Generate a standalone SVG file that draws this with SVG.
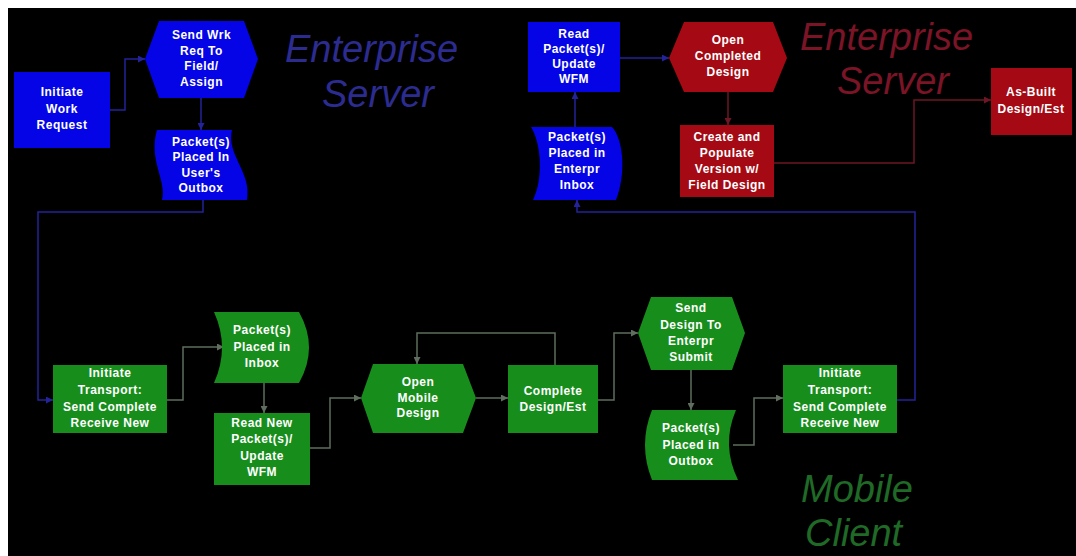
<svg xmlns="http://www.w3.org/2000/svg" width="1076" height="556" viewBox="0 0 1076 556">
  <style>
    .blue { fill: #0404e6; }
    .red { fill: #a50a14; }
    .green { fill: #178e1c; }
    .lbl { font-family: "Liberation Sans", Arial, sans-serif; font-weight: bold; font-size: 12px; fill: #ffffff; text-anchor: middle; letter-spacing: 0.5px; }
    .title { font-family: "Liberation Sans", Arial, sans-serif; font-style: italic; font-size: 38px; }
    .cb { fill: none; stroke: #23239a; stroke-width: 1.5; marker-end: url(#ab); }
    .cr { fill: none; stroke: #6e1624; stroke-width: 1.5; marker-end: url(#ar); }
    .cg { fill: none; stroke: #5f6e5f; stroke-width: 1.5; marker-end: url(#ag); }
  </style>
  <defs>
    <marker id="ab" viewBox="0 0 10 10" refX="10" refY="5" markerWidth="7" markerHeight="7" markerUnits="userSpaceOnUse" orient="auto">
      <path d="M0,0 L10,5 L0,10 Z" fill="#23239a"/>
    </marker>
    <marker id="ar" viewBox="0 0 10 10" refX="10" refY="5" markerWidth="7" markerHeight="7" markerUnits="userSpaceOnUse" orient="auto">
      <path d="M0,0 L10,5 L0,10 Z" fill="#6e1624"/>
    </marker>
    <marker id="ag" viewBox="0 0 10 10" refX="10" refY="5" markerWidth="7" markerHeight="7" markerUnits="userSpaceOnUse" orient="auto">
      <path d="M0,0 L10,5 L0,10 Z" fill="#5f6e5f"/>
    </marker>
  </defs>

  <!-- page and dark canvas -->
  <rect x="0" y="0" width="1076" height="556" fill="#ffffff"/>
  <rect x="8" y="8" width="1068" height="548" fill="#000000"/>

  <!-- swimlane titles -->
  <g id="titles">
    <text class="title" fill="#2c2c90"><tspan x="285" y="62">Enterprise</tspan><tspan x="322" y="107">Server</tspan></text>
    <text class="title" fill="#7a1426"><tspan x="800" y="50">Enterprise</tspan><tspan x="837" y="94">Server</tspan></text>
    <text class="title" fill="#1f6a26"><tspan x="801" y="502">Mobile</tspan><tspan x="805" y="546">Client</tspan></text>
  </g>

  <!-- connectors -->
  <g id="connectors">
    <polyline class="cb" points="110,110 125,110 125,59 145,59"/>
    <polyline class="cb" points="201,98 201,130"/>
    <polyline class="cb" points="203,200 203,212 38,212 38,400 53,400"/>
    <polyline class="cb" points="897,400 915,400 915,212 577,212 577,200"/>
    <polyline class="cb" points="575,127 575,92"/>
    <polyline class="cb" points="620,58 669,58"/>
    <polyline class="cr" points="728,92 728,125"/>
    <polyline class="cr" points="774,163 914,163 914,100 991,100"/>
    <polyline class="cg" points="167,400 183,400 183,347 224,347"/>
    <polyline class="cg" points="264,383 264,413"/>
    <polyline class="cg" points="310,448 330,448 330,398 361,398"/>
    <polyline class="cg" points="476,398 508,398"/>
    <polyline class="cg" points="555,365 555,333 417,333 417,364"/>
    <polyline class="cg" points="598,400 614,400 614,333 638,333"/>
    <polyline class="cg" points="691,370 691,410"/>
    <polyline class="cg" points="733,445 754,445 754,398 783,398"/>
  </g>

  <!-- enterprise server (dispatch side) -->
  <g id="initiate-work-request">
    <rect class="blue" x="14" y="72" width="96" height="76"/>
    <text class="lbl"><tspan x="62" y="96">Initiate</tspan><tspan x="62" y="112.5">Work</tspan><tspan x="62" y="129">Request</tspan></text>
  </g>
  <g id="send-work-request">
    <polygon class="blue" points="145,59 159,21 244,21 258,59 244,98 159,98"/>
    <text class="lbl"><tspan x="201.5" y="39">Send Wrk</tspan><tspan x="201.5" y="55">Req To</tspan><tspan x="201.5" y="70">Field/</tspan><tspan x="201.5" y="86">Assign</tspan></text>
  </g>
  <g id="packets-user-outbox">
    <path class="blue" d="M157,130 H232 C226,155 252,172 247,200 H162 C167,180 148,160 157,130 Z"/>
    <text class="lbl"><tspan x="201" y="146">Packet(s)</tspan><tspan x="201" y="161">Placed In</tspan><tspan x="201" y="176.5">User's</tspan><tspan x="201" y="192">Outbox</tspan></text>
  </g>

  <!-- enterprise server (return side) -->
  <g id="read-packets-update-wfm">
    <rect class="blue" x="528" y="22" width="92" height="70"/>
    <text class="lbl"><tspan x="574" y="38">Read</tspan><tspan x="574" y="53">Packet(s)/</tspan><tspan x="574" y="68">Update</tspan><tspan x="574" y="83">WFM</tspan></text>
  </g>
  <g id="packets-enterprise-inbox">
    <path class="blue" d="M531,127 H612 C624,140 626,175 616,200 H533 C543,180 542,145 531,127 Z"/>
    <text class="lbl"><tspan x="577" y="141">Packet(s)</tspan><tspan x="577" y="157">Placed in</tspan><tspan x="577" y="173">Enterpr</tspan><tspan x="577" y="189">Inbox</tspan></text>
  </g>
  <g id="open-completed-design">
    <polygon class="red" points="669,58 684,22 773,22 787,58 773,92 684,92"/>
    <text class="lbl"><tspan x="728" y="44">Open</tspan><tspan x="728" y="60">Completed</tspan><tspan x="728" y="76">Design</tspan></text>
  </g>
  <g id="create-populate-version">
    <rect class="red" x="680" y="125" width="94" height="72"/>
    <text class="lbl"><tspan x="727" y="141">Create and</tspan><tspan x="727" y="157">Populate</tspan><tspan x="727" y="173">Version  w/</tspan><tspan x="727" y="189">Field Design</tspan></text>
  </g>
  <g id="as-built-design">
    <rect class="red" x="991" y="68" width="81" height="67"/>
    <text class="lbl"><tspan x="1031" y="96">As-Built</tspan><tspan x="1031" y="113">Design/Est</tspan></text>
  </g>

  <!-- mobile client -->
  <g id="initiate-transport-in">
    <rect class="green" x="53" y="365" width="114" height="68"/>
    <text class="lbl"><tspan x="110" y="377">Initiate</tspan><tspan x="110" y="394">Transport:</tspan><tspan x="110" y="411">Send Complete</tspan><tspan x="110" y="427">Receive New</tspan></text>
  </g>
  <g id="packets-inbox">
    <path class="green" d="M214,312 H299 Q319,347.5 299,383 H214 Q230,347.5 214,312 Z"/>
    <text class="lbl"><tspan x="262" y="334">Packet(s)</tspan><tspan x="262" y="351">Placed in</tspan><tspan x="262" y="367">Inbox</tspan></text>
  </g>
  <g id="read-new-packets">
    <rect class="green" x="214" y="413" width="96" height="72"/>
    <text class="lbl"><tspan x="262" y="427">Read New</tspan><tspan x="262" y="443">Packet(s)/</tspan><tspan x="262" y="460">Update</tspan><tspan x="262" y="476">WFM</tspan></text>
  </g>
  <g id="open-mobile-design">
    <polygon class="green" points="361,398 373,364 463,364 476,398 463,433 373,433"/>
    <text class="lbl"><tspan x="418" y="386">Open</tspan><tspan x="418" y="401.5">Mobile</tspan><tspan x="418" y="417">Design</tspan></text>
  </g>
  <g id="complete-design">
    <rect class="green" x="508" y="365" width="90" height="68"/>
    <text class="lbl"><tspan x="553" y="395">Complete</tspan><tspan x="553" y="411">Design/Est</tspan></text>
  </g>
  <g id="send-design-submit">
    <polygon class="green" points="638,333 651,297 732,297 745,333 732,370 651,370"/>
    <text class="lbl"><tspan x="691" y="312">Send</tspan><tspan x="691" y="329">Design To</tspan><tspan x="691" y="345">Enterpr</tspan><tspan x="691" y="361">Submit</tspan></text>
  </g>
  <g id="packets-outbox">
    <path class="green" d="M652,410 H736 Q721,445 738,480 H652 Q638,445 652,410 Z"/>
    <text class="lbl"><tspan x="691" y="432">Packet(s)</tspan><tspan x="691" y="449">Placed in</tspan><tspan x="691" y="465">Outbox</tspan></text>
  </g>
  <g id="initiate-transport-out">
    <rect class="green" x="783" y="365" width="114" height="68"/>
    <text class="lbl"><tspan x="840" y="377">Initiate</tspan><tspan x="840" y="394">Transport:</tspan><tspan x="840" y="411">Send Complete</tspan><tspan x="840" y="427">Receive New</tspan></text>
  </g>
</svg>
